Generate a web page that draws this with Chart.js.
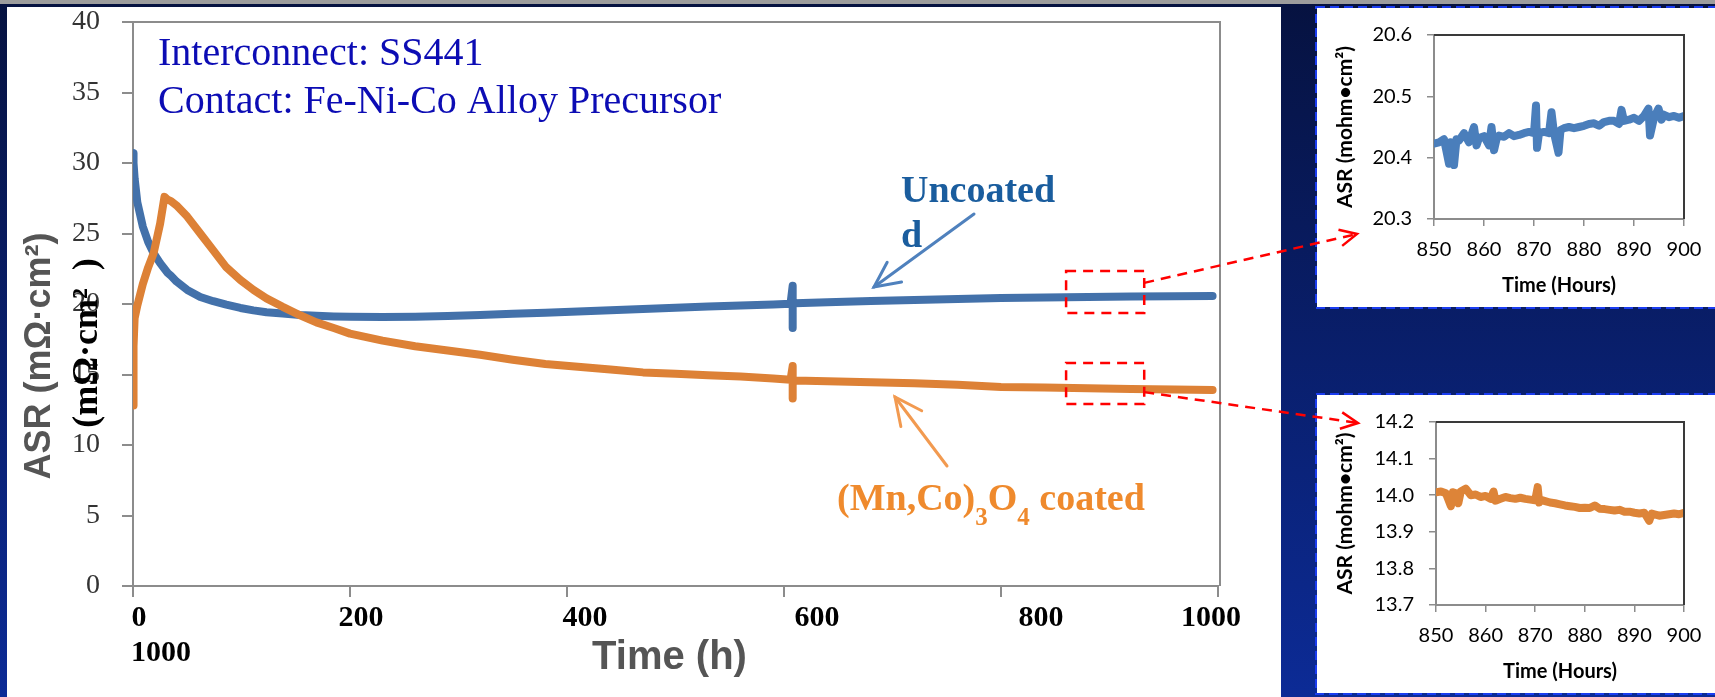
<!DOCTYPE html>
<html>
<head>
<meta charset="utf-8">
<title>ASR vs time</title>
<script src="https://cdn.jsdelivr.net/npm/chart.js@4.4.1/dist/chart.umd.min.js"></script>
<style>
    html, body { margin: 0; padding: 0; overflow: hidden; background: #0a1a5c; }
    #stage { position: relative; width: 1715px; height: 697px; }
    #stage canvas { position: absolute; }
    #mainChart { left: 0; top: 0; }
    #insetTop { left: 1317px; top: 8px; }
    #insetBottom { left: 1317px; top: 395px; }
</style>
</head>
<body>
<div id="stage">
    <canvas id="mainChart" width="1715" height="697"></canvas>
    <canvas id="insetTop" width="398" height="299"></canvas>
    <canvas id="insetBottom" width="398" height="298"></canvas>
</div>
<script>
// Main chart: time (h) and ASR (mOhm.cm2)
const hours = [0, 0.5, 1.5, 4, 9, 14, 19, 25, 29, 32, 35, 40, 50, 62, 74, 86, 99, 111, 123, 138,
    154, 169, 185, 200, 230, 260, 290, 320, 350, 380, 410, 440, 470, 500, 530, 560, 590, 606, 608, 608,
    608, 610, 640, 680, 720, 760, 800, 840, 880, 920, 960, 995];
const uncoatedAsr = [30.7, 30.0, 28.9, 27.2, 25.5, 24.4, 23.6, 22.9, 22.5, 22.2, 22.0, 21.6, 21.0, 20.5, 20.2, 19.95, 19.72, 19.55, 19.42, 19.32,
    19.22, 19.16, 19.12, 19.1, 19.08, 19.1, 19.15, 19.22, 19.3, 19.38, 19.46, 19.55, 19.65, 19.74, 19.82, 19.9, 19.97, 20.02, 21.3, 18.3,
    20.05, 20.06, 20.13, 20.21, 20.29, 20.36, 20.42, 20.46, 20.5, 20.53, 20.55, 20.57];
const coatedAsr = [12.8, 17.0, 19.0, 19.9, 21.4, 22.6, 23.6, 25.7, 27.6, 27.4, 27.3, 27.0, 26.2, 25.0, 23.8, 22.6, 21.7, 21.0, 20.4, 19.8,
    19.2, 18.7, 18.3, 17.9, 17.4, 17.0, 16.7, 16.4, 16.05, 15.75, 15.55, 15.35, 15.15, 15.05, 14.95, 14.85, 14.72, 14.62, 15.6, 13.3,
    14.58, 14.57, 14.52, 14.45, 14.38, 14.27, 14.12, 14.07, 14.02, 13.98, 13.94, 13.9];

// Zoomed windows 850-900 h
const zoomHoursTop = [850, 851, 852, 853, 853.3, 854, 854.5, 855, 856, 857, 858, 858.5, 859, 860, 861, 861.5, 862, 862.5, 863, 864,
    865, 866, 867, 868, 869, 870, 870.4, 870.6, 871, 872, 873, 873.5, 874, 874.9, 875.3, 876, 877, 878, 879, 880,
    881, 882, 883, 884, 885, 886, 887, 887.5, 888, 889, 890, 891, 892, 892.9, 893.2, 894, 894.9, 895.5, 896, 897,
    898, 899, 900];
const zoomAsrTop = [20.423, 20.425, 20.43, 20.39, 20.425, 20.388, 20.43, 20.428, 20.44, 20.425, 20.45, 20.42, 20.432, 20.435, 20.42, 20.45, 20.412, 20.43, 20.436, 20.434,
    20.44, 20.435, 20.437, 20.44, 20.442, 20.44, 20.485, 20.416, 20.44, 20.442, 20.44, 20.474, 20.44, 20.408, 20.445, 20.448, 20.45, 20.448, 20.45, 20.452,
    20.455, 20.456, 20.452, 20.458, 20.46, 20.46, 20.455, 20.478, 20.46, 20.462, 20.465, 20.46, 20.468, 20.48, 20.436, 20.465, 20.48, 20.462, 20.47, 20.466,
    20.468, 20.465, 20.468];
const zoomHoursBottom = [850, 851, 852, 853, 853.4, 854, 854.5, 855, 856, 857, 858, 859, 860, 861, 861.6, 862, 863, 864, 865, 866,
    867, 868, 869, 870, 870.5, 870.8, 871, 872, 873, 874, 875, 876, 877, 878, 879, 880, 881, 882, 883, 884,
    885, 886, 887, 888, 889, 890, 891, 892, 893, 893.5, 894, 895, 896, 897, 898, 899, 900];
const zoomAsrBottom = [14.008, 14.01, 14.005, 13.97, 14.008, 14.005, 13.978, 14.01, 14.018, 14.0, 14.002, 13.995, 13.998, 13.99, 14.01, 13.985, 13.99, 13.995, 13.992, 13.99,
    13.993, 13.99, 13.988, 13.986, 14.022, 13.98, 13.988, 13.984, 13.98, 13.978, 13.975, 13.972, 13.97, 13.968, 13.965, 13.966, 13.965, 13.972, 13.963, 13.962,
    13.96, 13.958, 13.96, 13.955, 13.955, 13.952, 13.95, 13.952, 13.93, 13.95, 13.948, 13.944, 13.946, 13.948, 13.95, 13.948, 13.952];

// Axis ranges
const mainHourRange = [0, 1000, 200];
const mainAsrRange = [0, 40, 5];
const zoomHourRange = [850, 900, 10];
const zoomAsrRangeTop = [20.3, 20.6];
const zoomAsrRangeBottom = [13.7, 14.2];

// Dashed boxes on the main chart (data units) and where their leader lines point on the page
const zoomBoxes = [
    { from: 860, to: 932, low: 19.36, high: 22.34, joinAt: 21.5, target: [1357, 234] },
    { from: 860, to: 932, low: 12.91, high: 15.82, joinAt: 13.75, target: [1358, 423] }
];
// PowerPoint-placed labels sit a bit off their ticks
const xLabelShift = [6, 11, 18, 33, 40, -7];
const insetPanels = [
    { x: 1317, y: 8, w: 398, h: 299 },
    { x: 1317, y: 395, w: 398, h: 298 }
];

const toPoints = (xs, ys) => xs.map((x, i) => ({ x: x, y: ys[i] }));

// Function to draw an open arrow
function drawArrow(ctx, x0, y0, x1, y1, head, spread) {
    ctx.beginPath();
    ctx.moveTo(x0, y0);
    ctx.lineTo(x1, y1);
    ctx.stroke();
    const a = Math.atan2(y1 - y0, x1 - x0);
    ctx.setLineDash([]);
    ctx.beginPath();
    ctx.moveTo(x1 - head * Math.cos(a - spread), y1 - head * Math.sin(a - spread));
    ctx.lineTo(x1, y1);
    ctx.lineTo(x1 - head * Math.cos(a + spread), y1 - head * Math.sin(a + spread));
    ctx.stroke();
}

// Slide background, white panels and the dashed inset frames
const slideBackground = {
    id: 'slideBackground',
    beforeDraw(chart) {
        const ctx = chart.ctx;
        ctx.save();
        const g = ctx.createLinearGradient(0, 0, 0, chart.height);
        g.addColorStop(0, '#061240');
        g.addColorStop(1, '#0c2b96');
        ctx.fillStyle = g;
        ctx.fillRect(0, 0, chart.width, chart.height);
        ctx.fillStyle = '#9d9d9d';
        ctx.fillRect(0, 0, chart.width, 4);
        ctx.fillStyle = '#ffffff';
        ctx.fillRect(7, 7, 1274, 690);
        insetPanels.forEach(p => ctx.fillRect(p.x, p.y, p.w, p.h));
        ctx.setLineDash([9, 5]);
        ctx.strokeStyle = '#1a3cf0';
        ctx.lineWidth = 2;
        insetPanels.forEach(p => ctx.strokeRect(p.x - 1, p.y - 1, p.w + 2, p.h + 2));
        ctx.restore();
    }
};

// Frame, labels, arrows and zoom boxes for the main chart
const mainDecor = {
    id: 'mainDecor',
    afterDraw(chart) {
        const ctx = chart.ctx;
        const area = chart.chartArea;
        const xs = chart.scales.x;
        const ys = chart.scales.y;
        ctx.save();

        // top and right of the plot frame
        ctx.strokeStyle = '#8c8c8c';
        ctx.lineWidth = 2;
        ctx.beginPath();
        ctx.moveTo(area.left, area.top);
        ctx.lineTo(area.right + 2, area.top);
        ctx.lineTo(area.right + 2, area.bottom);
        ctx.stroke();

        // x tick labels
        ctx.fillStyle = '#000';
        ctx.font = 'bold 30px "Liberation Serif"';
        ctx.textAlign = 'center';
        ctx.textBaseline = 'middle';
        xs.ticks.forEach((t, i) => {
            ctx.fillText(String(t.value), xs.getPixelForValue(t.value) + (xLabelShift[i] || 0), xs.top + 32);
        });
        ctx.fillText('1000', xs.getPixelForValue(0) + 28, xs.top + 67);

        // axis titles
        ctx.fillStyle = '#555555';
        ctx.font = 'bold 40px "Liberation Sans"';
        ctx.fillText('Time (h)', (area.left + area.right) / 2 - 6, xs.top + 72);
        ctx.font = 'bold 36px "Liberation Sans"';
        ctx.save();
        ctx.translate(40, 356);
        ctx.rotate(-Math.PI / 2);
        ctx.fillText('ASR (mΩ·cm²)', 0, 0);
        ctx.restore();
        ctx.save();
        ctx.fillStyle = '#000';
        ctx.font = 'bold 36px "Liberation Serif"';
        ctx.translate(88, 343);
        ctx.rotate(-Math.PI / 2);
        ctx.fillText('(mΩ·cm²  )', 0, 0);
        ctx.restore();

        // test conditions
        ctx.textAlign = 'left';
        ctx.textBaseline = 'alphabetic';
        ctx.fillStyle = '#0c0cb4';
        ctx.font = '40px "Liberation Serif"';
        ctx.fillText('Interconnect: SS441', 158, 65);
        ctx.fillText('Contact: Fe-Ni-Co Alloy Precursor', 158, 113);

        // series labels
        ctx.fillStyle = '#1a5d9e';
        ctx.font = 'bold 38px "Liberation Serif"';
        ctx.fillText('Uncoated', 901, 202);
        ctx.fillText('d', 901, 247);

        ctx.fillStyle = '#ef8a2d';
        let tx = 837;
        [['(Mn,Co)', false], ['3', true], ['O', false], ['4', true], [' coated', false]].forEach(([txt, sub]) => {
            ctx.font = sub ? 'bold 25px "Liberation Serif"' : 'bold 38px "Liberation Serif"';
            ctx.fillText(txt, tx, sub ? 525 : 510);
            tx += ctx.measureText(txt).width;
        });

        ctx.lineWidth = 3;
        ctx.lineCap = 'round';
        ctx.strokeStyle = '#4f81bd';
        drawArrow(ctx, 974, 214, 874, 287, 28, 0.45);
        ctx.strokeStyle = '#f29a50';
        drawArrow(ctx, 947, 466, 895, 397, 30, 0.45);

        // zoom boxes and leader lines
        ctx.strokeStyle = '#ff0000';
        ctx.lineWidth = 2.5;
        ctx.lineCap = 'butt';
        zoomBoxes.forEach(b => {
            const x0 = xs.getPixelForValue(b.from);
            const x1 = xs.getPixelForValue(b.to);
            const y0 = ys.getPixelForValue(b.high);
            const y1 = ys.getPixelForValue(b.low);
            ctx.setLineDash([10, 7]);
            ctx.strokeRect(x0, y0, x1 - x0, y1 - y0);
            drawArrow(ctx, x1, ys.getPixelForValue(b.joinAt), b.target[0], b.target[1], 19, 0.45);
        });
        ctx.restore();
    }
};

// Dark top/right edges of the inset plot frames
const insetFrame = {
    id: 'insetFrame',
    afterDraw(chart) {
        const ctx = chart.ctx;
        const area = chart.chartArea;
        ctx.save();
        ctx.strokeStyle = '#3a3a3a';
        ctx.lineWidth = 2;
        ctx.beginPath();
        ctx.moveTo(area.left, area.top);
        ctx.lineTo(area.right, area.top);
        ctx.lineTo(area.right, area.bottom);
        ctx.stroke();
        ctx.restore();
    }
};

new Chart(document.getElementById('mainChart'), {
    type: 'line',
    data: {
        datasets: [
            {
                label: 'Uncoated',
                data: toPoints(hours, uncoatedAsr),
                borderColor: '#4371aa',
                order: 2
            },
            {
                label: '(Mn,Co)3O4 coated',
                data: toPoints(hours, coatedAsr),
                borderColor: '#dd8136',
                order: 1
            }
        ]
    },
    options: {
        responsive: false,
        animation: false,
        layout: { padding: { left: 0, top: 22, right: 497, bottom: 0 } },
        elements: {
            point: { radius: 0 },
            line: { borderWidth: 8, tension: 0, borderCapStyle: 'round', borderJoinStyle: 'round' }
        },
        plugins: { legend: { display: false }, tooltip: { enabled: false } },
        scales: {
            x: {
                type: 'linear',
                min: mainHourRange[0],
                max: mainHourRange[1],
                ticks: { stepSize: mainHourRange[2], display: false },
                grid: { drawOnChartArea: false, tickLength: 11, color: '#8c8c8c', lineWidth: 2 },
                border: { color: '#8c8c8c', width: 2 },
                afterFit: scale => {
                    scale.height = 111;
                    scale.paddingLeft = 0;
                    scale.paddingRight = 0;
                }
            },
            y: {
                min: mainAsrRange[0],
                max: mainAsrRange[1],
                ticks: {
                    stepSize: mainAsrRange[2],
                    padding: 22,
                    color: '#333333',
                    font: { family: 'Liberation Serif', size: 28 }
                },
                grid: { drawOnChartArea: false, tickLength: 11, color: '#8c8c8c', lineWidth: 2 },
                border: { color: '#8c8c8c', width: 2 },
                afterFit: scale => {
                    scale.width = 133;
                    scale.paddingTop = 0;
                    scale.paddingBottom = 0;
                }
            }
        }
    },
    plugins: [slideBackground, mainDecor]
});

// Function to build one of the zoomed-in charts
function insetChart(canvasId, xs, ys, color, yRange, yAxisWidth) {
    return new Chart(document.getElementById(canvasId), {
        type: 'line',
        data: {
            datasets: [{
                data: toPoints(xs, ys),
                borderColor: color,
                borderWidth: 8,
                pointRadius: 0,
                tension: 0,
                borderJoinStyle: 'round',
                borderCapStyle: 'round'
            }]
        },
        options: {
            responsive: false,
            animation: false,
            layout: { padding: { left: 0, top: 27, right: 31, bottom: 0 } },
            plugins: { legend: { display: false }, tooltip: { enabled: false } },
            scales: {
                x: {
                    type: 'linear',
                    min: zoomHourRange[0],
                    max: zoomHourRange[1],
                    ticks: { stepSize: zoomHourRange[2], padding: 12, color: '#000', font: { family: 'Lato', size: 20 } },
                    grid: { drawOnChartArea: false, tickLength: 7, color: '#8c8c8c', lineWidth: 1.5 },
                    border: { color: '#8c8c8c', width: 2 },
                    title: {
                        display: true,
                        text: 'Time (Hours)',
                        color: '#000',
                        font: { family: 'Lato', size: 20, weight: 'bold' },
                        padding: { top: 0, bottom: 9 }
                    },
                    afterFit: scale => {
                        scale.height = 88;
                        scale.paddingLeft = 0;
                        scale.paddingRight = 0;
                    }
                },
                y: {
                    min: yRange[0],
                    max: yRange[1],
                    ticks: {
                        stepSize: 0.1,
                        padding: 15,
                        color: '#000',
                        font: { family: 'Lato', size: 20 },
                        callback: v => v.toFixed(1)
                    },
                    grid: { drawOnChartArea: false, tickLength: 7, color: '#8c8c8c', lineWidth: 1.5 },
                    border: { color: '#8c8c8c', width: 2 },
                    title: {
                        display: true,
                        text: 'ASR (mohm•cm²)',
                        color: '#000',
                        font: { family: 'Lato', size: 21, weight: 'bold' },
                        padding: { top: 16, bottom: 0 }
                    },
                    afterFit: scale => {
                        scale.width = yAxisWidth;
                        scale.paddingTop = 0;
                        scale.paddingBottom = 0;
                    }
                }
            }
        },
        plugins: [insetFrame]
    });
}

insetChart('insetTop', zoomHoursTop, zoomAsrTop, '#4a7ebb', zoomAsrRangeTop, 117);
insetChart('insetBottom', zoomHoursBottom, zoomAsrBottom, '#dd8438', zoomAsrRangeBottom, 119);
</script>
</body>
</html>
